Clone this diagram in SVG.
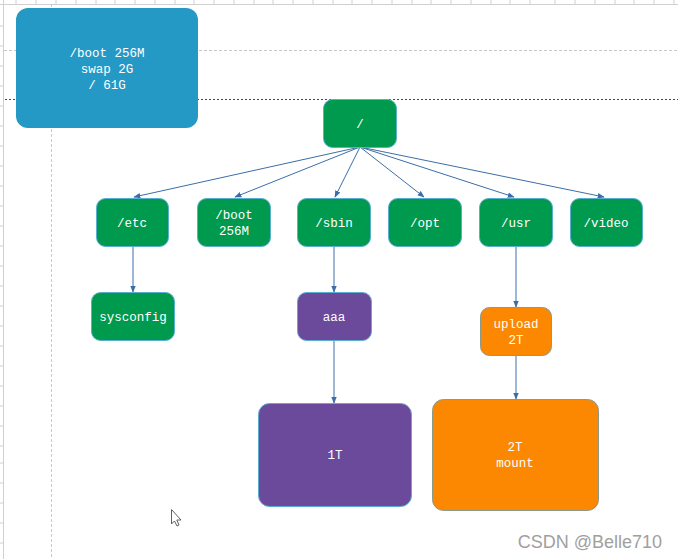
<svg xmlns="http://www.w3.org/2000/svg" width="678" height="559" viewBox="0 0 678 559">
<defs>
<style>
.bg{fill:#ffffff}
.tick{stroke:#d0d0d0;stroke-width:1}
.guide{stroke:#c8c8c8;stroke-width:1;stroke-dasharray:3,2}
.blueguide{stroke:#3a3aa0;stroke-width:1;stroke-dasharray:2,2}
.n{stroke:#5aaed0;stroke-width:1}
.g{fill:#009a4f}
.p{fill:#6b4a9b}
.o{fill:#fb8800;stroke:#8a9a8a}
.b{fill:#2499c6;stroke:none}
.t{font-family:"Liberation Mono","DejaVu Sans Mono",monospace;font-size:12.5px;fill:#ffffff;text-anchor:middle}
.e{stroke:#3b6ea8;stroke-width:1;fill:none;marker-end:url(#arr)}
</style>
<marker id="arr" viewBox="0 0 10 10" refX="9" refY="5" markerWidth="7" markerHeight="7" orient="auto" markerUnits="userSpaceOnUse">
<path d="M0,1 L10,5 L0,9 z" fill="#3b6ea8"/>
</marker>
</defs>
<rect class="bg" x="0" y="0" width="678" height="559"/>
<g id="rulers">
<line class="tick" x1="0" y1="4.5" x2="678" y2="4.5"/>
<line class="tick" x1="3.5" y1="0" x2="3.5" y2="559"/>
<g id="topticks">
<line class="tick" x1="16" y1="0" x2="16" y2="4"/><line class="tick" x1="36" y1="0" x2="36" y2="4"/><line class="tick" x1="56" y1="0" x2="56" y2="4"/><line class="tick" x1="76" y1="0" x2="76" y2="4"/><line class="tick" x1="96" y1="0" x2="96" y2="4"/><line class="tick" x1="115" y1="0" x2="115" y2="4"/><line class="tick" x1="135" y1="0" x2="135" y2="4"/><line class="tick" x1="155" y1="0" x2="155" y2="4"/><line class="tick" x1="175" y1="0" x2="175" y2="4"/><line class="tick" x1="194" y1="0" x2="194" y2="4"/><line class="tick" x1="214" y1="0" x2="214" y2="4"/><line class="tick" x1="234" y1="0" x2="234" y2="4"/><line class="tick" x1="254" y1="0" x2="254" y2="4"/><line class="tick" x1="273" y1="0" x2="273" y2="4"/><line class="tick" x1="293" y1="0" x2="293" y2="4"/><line class="tick" x1="313" y1="0" x2="313" y2="4"/><line class="tick" x1="333" y1="0" x2="333" y2="4"/><line class="tick" x1="352" y1="0" x2="352" y2="4"/><line class="tick" x1="372" y1="0" x2="372" y2="4"/><line class="tick" x1="392" y1="0" x2="392" y2="4"/><line class="tick" x1="412" y1="0" x2="412" y2="4"/><line class="tick" x1="431" y1="0" x2="431" y2="4"/><line class="tick" x1="451" y1="0" x2="451" y2="4"/><line class="tick" x1="471" y1="0" x2="471" y2="4"/><line class="tick" x1="491" y1="0" x2="491" y2="4"/><line class="tick" x1="510" y1="0" x2="510" y2="4"/><line class="tick" x1="530" y1="0" x2="530" y2="4"/><line class="tick" x1="555" y1="0" x2="555" y2="4"/><line class="tick" x1="575" y1="0" x2="575" y2="4"/><line class="tick" x1="595" y1="0" x2="595" y2="4"/><line class="tick" x1="615" y1="0" x2="615" y2="4"/><line class="tick" x1="634" y1="0" x2="634" y2="4"/><line class="tick" x1="654" y1="0" x2="654" y2="4"/><line class="tick" x1="674" y1="0" x2="674" y2="4"/>
</g>
<g id="leftticks">
<line class="tick" x1="0" y1="26" x2="3" y2="26"/><line class="tick" x1="0" y1="46" x2="3" y2="46"/><line class="tick" x1="0" y1="66" x2="3" y2="66"/><line class="tick" x1="0" y1="86" x2="3" y2="86"/><line class="tick" x1="0" y1="106" x2="3" y2="106"/><line class="tick" x1="0" y1="126" x2="3" y2="126"/><line class="tick" x1="0" y1="146" x2="3" y2="146"/><line class="tick" x1="0" y1="166" x2="3" y2="166"/><line class="tick" x1="0" y1="186" x2="3" y2="186"/><line class="tick" x1="0" y1="206" x2="3" y2="206"/><line class="tick" x1="0" y1="226" x2="3" y2="226"/><line class="tick" x1="0" y1="246" x2="3" y2="246"/><line class="tick" x1="0" y1="266" x2="3" y2="266"/><line class="tick" x1="0" y1="286" x2="3" y2="286"/><line class="tick" x1="0" y1="306" x2="3" y2="306"/><line class="tick" x1="0" y1="326" x2="3" y2="326"/><line class="tick" x1="0" y1="346" x2="3" y2="346"/><line class="tick" x1="0" y1="366" x2="3" y2="366"/><line class="tick" x1="0" y1="386" x2="3" y2="386"/><line class="tick" x1="0" y1="406" x2="3" y2="406"/><line class="tick" x1="0" y1="426" x2="3" y2="426"/><line class="tick" x1="0" y1="446" x2="3" y2="446"/><line class="tick" x1="0" y1="463" x2="3" y2="463"/><line class="tick" x1="0" y1="483" x2="3" y2="483"/><line class="tick" x1="0" y1="503" x2="3" y2="503"/><line class="tick" x1="0" y1="523" x2="3" y2="523"/><line class="tick" x1="0" y1="543" x2="3" y2="543"/>
</g>
<line class="guide" x1="4" y1="50.5" x2="678" y2="50.5"/>
<line class="guide" x1="51.5" y1="4" x2="51.5" y2="559"/>
<line class="blueguide" x1="5" y1="99.5" x2="678" y2="99.5"/>
</g>
<g id="connectors">
<line class="e" x1="360" y1="147" x2="134" y2="197"/>
<line class="e" x1="360" y1="147" x2="235" y2="197"/>
<line class="e" x1="360" y1="147" x2="335" y2="197"/>
<line class="e" x1="360" y1="147" x2="424" y2="197"/>
<line class="e" x1="360" y1="147" x2="514" y2="197"/>
<line class="e" x1="360" y1="147" x2="604" y2="197"/>
<line class="e" x1="133" y1="246" x2="133" y2="292"/>
<line class="e" x1="334" y1="246" x2="334" y2="292"/>
<line class="e" x1="334" y1="340" x2="334" y2="403"/>
<line class="e" x1="516" y1="246" x2="516" y2="307"/>
<line class="e" x1="516" y1="355" x2="516" y2="399"/>
</g>
<g id="partition">
<rect class="b" x="16" y="8" width="182" height="120" rx="12"/>
<text class="t" x="107" y="57">/boot 256M</text>
<text class="t" x="107" y="73">swap 2G</text>
<text class="t" x="107" y="89">/ 61G</text>
</g>
<g id="root">
<rect class="n g" x="323.5" y="99.5" width="73" height="48" rx="9"/>
<text class="t" x="360" y="128">/</text>
</g>
<g id="etc">
<rect class="n g" x="96.5" y="198.5" width="72" height="48" rx="9"/>
<text class="t" x="132" y="227">/etc</text>
</g>
<g id="boot">
<rect class="n g" x="197.5" y="198.5" width="73" height="48" rx="9"/>
<text class="t" x="234" y="219">/boot</text>
<text class="t" x="234" y="235">256M</text>
</g>
<g id="sbin">
<rect class="n g" x="297.5" y="198.5" width="73" height="48" rx="9"/>
<text class="t" x="334" y="227">/sbin</text>
</g>
<g id="opt">
<rect class="n g" x="388.5" y="198.5" width="73" height="48" rx="9"/>
<text class="t" x="425" y="227">/opt</text>
</g>
<g id="usr">
<rect class="n g" x="479.5" y="198.5" width="73" height="48" rx="9"/>
<text class="t" x="516" y="227">/usr</text>
</g>
<g id="video">
<rect class="n g" x="570.5" y="198.5" width="72" height="48" rx="9"/>
<text class="t" x="606" y="227">/video</text>
</g>
<g id="sysconfig">
<rect class="n g" x="91.5" y="292.5" width="83" height="48" rx="9"/>
<text class="t" x="133" y="321">sysconfig</text>
</g>
<g id="aaa">
<rect class="n p" x="297.5" y="292.5" width="74" height="48" rx="9"/>
<text class="t" x="334" y="321">aaa</text>
</g>
<g id="upload">
<rect class="n o" x="480.5" y="307.5" width="71" height="48" rx="9"/>
<text class="t" x="516" y="328">upload</text>
<text class="t" x="516" y="344">2T</text>
</g>
<g id="oneT">
<rect class="n p" x="258.5" y="403.5" width="153" height="103" rx="11"/>
<text class="t" x="335" y="459">1T</text>
</g>
<g id="twoT">
<rect class="n o" x="432.5" y="399.5" width="166" height="111" rx="11"/>
<text class="t" x="515" y="451">2T</text>
<text class="t" x="515" y="467">mount</text>
</g>
<g id="cursor">
<path d="M171.5,509.5 L171.5,524 L174.5,521 L177,526 L179,525 L176.8,520 L181,520 Z" fill="#ffffff" stroke="#606060" stroke-width="1"/>
</g>
<text x="662" y="548" font-family="'Liberation Sans','DejaVu Sans',sans-serif" font-size="18" fill="#a0a0a0" text-anchor="end">CSDN @Belle710</text>
</svg>
